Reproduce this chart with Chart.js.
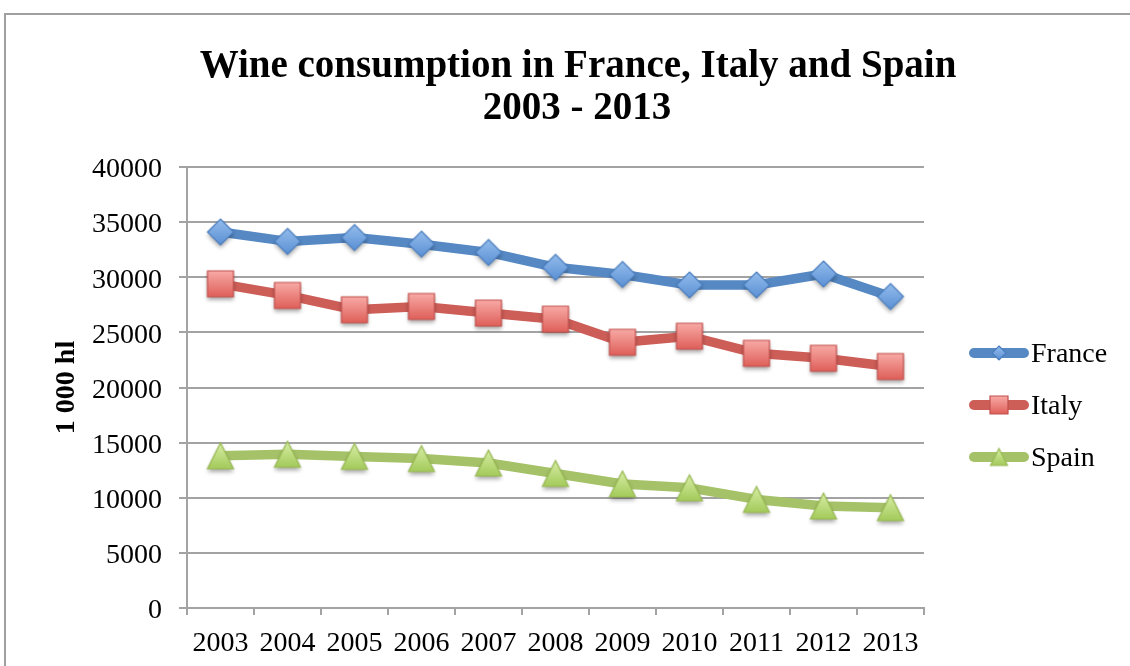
<!DOCTYPE html>
<html><head><meta charset="utf-8">
<script src="https://cdn.jsdelivr.net/npm/chart.js@4.4.1/dist/chart.umd.min.js"></script>
<style>html,body{margin:0;padding:0;background:#fff;overflow:hidden}#wrap{position:relative;width:1130px;height:666px}</style>
</head><body><div id="wrap"><canvas id="c" width="1130" height="666"></canvas></div>
<script>
const years = ['2003','2004','2005','2006','2007','2008','2009','2010','2011','2012','2013'];
const france = [34100, 33250, 33600, 33000, 32250, 30900, 30250, 29300, 29300, 30300, 28250];
const italy  = [29400, 28350, 27050, 27350, 26750, 26200, 24100, 24650, 23100, 22650, 21900];
const spain  = [13800, 13950, 13750, 13550, 13150, 12200, 11250, 10900, 9850, 9250, 9100];
const seriesNames = ['France', 'Italy', 'Spain'];
const yMin = 0, yMax = 40000, yStep = 5000;
const titleLines = ['Wine consumption in France, Italy and Spain', '2003 - 2013'];
const yTitle = '1 000 hl';

const SERIF = '"Liberation Serif", "Times New Roman", serif';

function makeMarker(shape, half, top, bottom, stroke, shadow) {
  const pad = shadow ? 8 : 2;
  const s = Math.ceil(half * 2 + pad * 2);
  const c = document.createElement('canvas');
  c.width = s; c.height = s;
  const g = c.getContext('2d');
  const cx = s / 2, cy = s / 2;
  g.beginPath();
  if (shape === 'diamond') {
    g.moveTo(cx, cy - half); g.lineTo(cx + half, cy); g.lineTo(cx, cy + half); g.lineTo(cx - half, cy); g.closePath();
  } else if (shape === 'square') {
    g.rect(cx - half, cy - half, half * 2, half * 2);
  } else {
    g.moveTo(cx, cy - half); g.lineTo(cx + half, cy + half); g.lineTo(cx - half, cy + half); g.closePath();
  }
  const gr = g.createLinearGradient(0, cy - half, 0, cy + half);
  gr.addColorStop(0, top); gr.addColorStop(1, bottom);
  g.save();
  if (shadow) { g.shadowColor = 'rgba(0,0,0,0.35)'; g.shadowBlur = 4; g.shadowOffsetY = 3; }
  g.fillStyle = gr; g.fill();
  g.restore();
  g.lineWidth = 1.2; g.strokeStyle = stroke; g.stroke();
  return c;
}

const styles = [
  {line: '#5689c4', shape: 'diamond', top: '#93bcec', bottom: '#5b90d4', stroke: '#4a7dbd', half: 13, lhalf: 7},
  {line: '#cd5d57', shape: 'square', top: '#f8aaa6', bottom: '#df5f59', stroke: '#c0504d', half: 13, lhalf: 9},
  {line: '#a5c268', shape: 'triangle', top: '#d8eea6', bottom: '#a3ca5a', stroke: '#97b852', half: 13, lhalf: 8.5}
];
const seriesData = [france, italy, spain];

const datasets = seriesData.map((d, i) => {
  const s = styles[i];
  return {
    label: seriesNames[i],
    data: d,
    borderColor: s.line,
    backgroundColor: s.line,
    borderWidth: 9.5,
    borderJoinStyle: 'round',
    borderCapStyle: 'round',
    tension: 0,
    pointStyle: makeMarker(s.shape, s.half, s.top, s.bottom, s.stroke, true),
    pointRadius: 13,
    pointHoverRadius: 13
  };
});
const legendMarkers = styles.map(s => makeMarker(s.shape, s.lhalf, s.top, s.bottom, s.stroke, false));

const GRID = '#a3a3a3';

const deco = {
  id: 'deco',
  beforeDraw(chart) {
    const ctx = chart.ctx;
    ctx.save();
    ctx.fillStyle = '#fff';
    ctx.fillRect(0, 0, chart.width, chart.height);
    ctx.strokeStyle = '#a0a0a0';
    ctx.lineWidth = 2;
    ctx.strokeRect(5, 14, 1400, 900);
    ctx.restore();
  },
  afterDraw(chart) {
    const ctx = chart.ctx;
    ctx.save();
    ctx.fillStyle = '#000';
    ctx.textAlign = 'center';
    ctx.textBaseline = 'alphabetic';
    ctx.font = 'bold 39px ' + SERIF;
    ctx.fillText(titleLines[0], 578, 77);
    ctx.fillText(titleLines[1], 577, 119);
    // legend
    const ys = [353, 405, 457];
    chart.data.datasets.forEach((ds, i) => {
      const y = ys[i];
      ctx.strokeStyle = ds.borderColor;
      ctx.lineWidth = 10;
      ctx.lineCap = 'round';
      ctx.beginPath(); ctx.moveTo(974, y); ctx.lineTo(1024, y); ctx.stroke();
      const m = legendMarkers[i];
      ctx.drawImage(m, 999 - m.width / 2, y - m.height / 2);
      ctx.fillStyle = '#000';
      ctx.textAlign = 'left';
      ctx.textBaseline = 'middle';
      ctx.font = '28px ' + SERIF;
      ctx.fillText(ds.label, 1031, y + 2);
    });
    ctx.restore();
  }
};

new Chart(document.getElementById('c'), {
  type: 'line',
  data: { labels: years, datasets },
  plugins: [deco],
  options: {
    responsive: false,
    animation: false,
    devicePixelRatio: 1,
    layout: { padding: { top: 167, right: 206, bottom: 0, left: 0 } },
    plugins: { legend: { display: false }, title: { display: false }, tooltip: { enabled: false } },
    scales: {
      x: {
        type: 'category',
        offset: true,
        afterFit(scale) { scale.height = 58; },
        grid: { display: true, drawOnChartArea: false, drawTicks: true, tickLength: 7, offset: true, color: GRID, lineWidth: 2 },
        border: { display: true, color: GRID, width: 2 },
        ticks: { color: '#000', font: { family: SERIF, size: 28 }, padding: 12, maxRotation: 0, autoSkip: false }
      },
      y: {
        min: yMin, max: yMax,
        afterFit(scale) { scale.width = 187; },
        ticks: { stepSize: yStep, color: '#000', font: { family: SERIF, size: 28 }, padding: 17, labelOffset: 3, callback: v => String(v) },
        grid: { color: GRID, lineWidth: 2, tickLength: 8 },
        border: { display: true, color: GRID, width: 2 },
        title: { display: true, text: yTitle, color: '#000', font: { family: SERIF, size: 28, weight: 'bold' }, padding: { top: 50, bottom: 0 } }
      }
    }
  }
});
</script>
</body></html>
